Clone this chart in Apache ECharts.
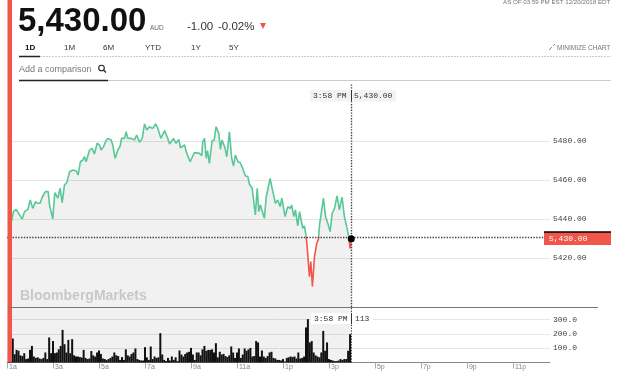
<!DOCTYPE html>
<html><head><meta charset="utf-8">
<script src="https://cdn.jsdelivr.net/npm/echarts@6/dist/echarts.min.js"></script>
<style>html,body{margin:0;padding:0;background:#fff}#c{width:620px;height:380px}</style></head>
<body><div id="c"></div>
<script>
const priceHours=[1.11,1.18,1.28,1.40,1.47,1.57,1.66,1.76,1.91,2.01,2.08,2.12,2.24,2.34,2.44,2.53,2.67,2.79,2.85,2.93,2.99,3.08,3.21,3.31,3.40,3.50,3.60,3.72,3.86,4.01,4.09,4.19,4.30,4.37,4.44,4.59,4.70,4.80,4.92,5.02,5.09,5.20,5.28,5.38,5.53,5.60,5.70,5.82,5.92,5.98,6.11,6.18,6.25,6.40,6.54,6.64,6.76,6.88,6.98,7.08,7.19,7.34,7.46,7.56,7.69,7.85,7.99,8.07,8.24,8.35,8.47,8.54,8.72,8.79,8.96,9.15,9.37,9.47,9.51,9.59,9.66,9.72,9.80,9.92,10.01,10.09,10.21,10.28,10.35,10.47,10.56,10.67,10.77,10.85,10.93,11.04,11.14,11.25,11.37,11.47,11.54,11.66,11.80,11.88,11.95,12.02,12.19,12.27,12.34,12.44,12.56,12.67,12.77,12.88,12.95,13.09,13.21,13.31,13.38,13.47,13.54,13.64,13.72,13.86,13.93,14.01,14.05,14.15,14.21,14.28,14.37,14.47,14.54,14.59,14.66,14.76,14.85,14.95,15.05,15.14,15.24,15.35,15.45,15.57,15.67,15.77,15.86,15.92,15.97];
const priceValues=[5436.2,5438.0,5443.9,5445.1,5445.1,5441.7,5440.2,5443.9,5445.1,5449.9,5449.9,5445.6,5449.0,5448.2,5448.2,5451.3,5454.2,5454.2,5447.3,5446.8,5440.2,5453.7,5450.8,5455.9,5448.5,5457.6,5458.8,5464.4,5465.3,5464.8,5462.7,5469.5,5470.4,5472.1,5469.5,5475.5,5476.4,5473.5,5479.0,5478.1,5475.5,5477.2,5479.8,5481.5,5480.7,5478.1,5471.3,5475.5,5477.6,5481.5,5481.5,5484.9,5481.5,5481.5,5480.7,5483.2,5479.5,5481.5,5488.9,5485.8,5487.5,5486.6,5488.9,5486.6,5481.5,5485.5,5481.5,5478.6,5481.5,5479.0,5481.0,5476.7,5478.1,5474.7,5469.5,5474.2,5473.8,5472.6,5479.8,5481.5,5471.3,5475.2,5468.7,5480.3,5480.7,5487.5,5484.1,5475.9,5480.7,5476.9,5472.1,5484.9,5471.3,5467.3,5473.0,5469.5,5469.0,5466.1,5462.2,5461.9,5458.1,5455.9,5442.2,5455.9,5443.9,5447.3,5440.5,5451.3,5451.6,5461.0,5454.2,5448.2,5449.9,5446.5,5450.8,5441.4,5446.5,5445.6,5447.3,5441.4,5444.8,5436.6,5443.9,5435.4,5436.6,5431.1,5426.0,5410.6,5418.3,5405.5,5420.9,5427.7,5429.7,5437.1,5436.2,5450.8,5441.4,5437.9,5433.7,5443.1,5445.6,5452.0,5444.8,5451.3,5441.4,5436.2,5431.1,5425.1,5430.0];
const volumeValues=[0,70,105,168,58,88,82,50,45,65,24,28,88,116,42,32,36,28,24,32,70,24,175,65,150,65,70,92,116,228,128,70,158,65,163,50,42,42,38,35,88,32,24,28,80,50,42,70,84,60,28,24,18,24,32,42,70,50,45,18,38,18,92,50,42,60,70,98,24,18,14,14,107,36,18,112,24,42,32,36,205,56,18,10,32,14,42,18,36,10,84,56,42,60,70,75,102,56,18,70,70,50,92,116,82,88,88,92,70,135,36,75,56,60,45,38,50,112,70,32,70,98,32,56,98,82,92,102,42,45,150,140,42,84,42,32,45,70,75,32,28,18,18,14,24,7,32,36,42,38,42,28,70,28,32,42,245,303,140,150,70,50,42,36,70,221,82,140,24,18,14,10,10,14,24,18,24,24,82,198];
const priceTicks=[5420,5440,5460,5480];
const volumeTicks=[100,200,300];
const hourTicks=[1,3,5,7,9,11,13,15,17,19,21,23];
const hourLabels=['1a','3a','5a','7a','9a','11a','1p','3p','5p','7p','9p','11p'];
const lastHour=15.97, lastPrice=5430, prevClose=5431, lastVolume=113;
const rangeTabs=['1D','1M','6M','YTD','1Y','5Y'];

const GREEN='#58c896',RED='#f0564a',SANS='"Liberation Sans",Arial,sans-serif',MONO='"Liberation Mono",monospace';
const price=priceHours.map((h,i)=>[h,priceValues[i]]);
const volume=volumeValues.map((v,i)=>[1+i/12,v]);
const txt=(x,y,text,size,fill,extra)=>({type:'text',z:100,silent:true,x,y,style:Object.assign({text,fontSize:size,fill,fontFamily:SANS,verticalAlign:'middle'},extra||{})});
const rect=(x,y,w,h,fill)=>({type:'rect',z:90,silent:true,shape:{x,y,width:w,height:h},style:{fill}});
const hline=(x1,x2,y,stroke,lw,dash)=>({type:'line',z:90,silent:true,shape:{x1,y1:y,x2,y2:y},style:{stroke,lineWidth:lw,lineDash:dash||null}});
const tabX=[25,64,103,145,191,229];

const chart=echarts.init(document.getElementById('c'),null,{renderer:'canvas'});
chart.setOption({
 animation:false,
 grid:[{left:7,right:70,top:84,bottom:73},{left:7,right:70,top:307,bottom:17.5}],
 xAxis:[
  {gridIndex:0,type:'value',min:1,max:24.61,show:false,splitLine:{show:false}},
  {gridIndex:1,type:'value',min:1,max:24.61,splitLine:{show:false},
   axisLine:{lineStyle:{color:'#888',width:1}},
   axisTick:{length:6,lineStyle:{color:'#aaa'},customValues:hourTicks},
   axisLabel:{customValues:hourTicks,align:'left',margin:1,padding:[0,0,0,2],fontSize:7,color:'#888',fontFamily:SANS,
     formatter:v=>hourLabels[hourTicks.indexOf(v)]||''}}
 ],
 yAxis:[
  {gridIndex:0,type:'value',position:'right',min:5395,max:5509.4,axisLine:{show:false},
   axisTick:{show:false,customValues:priceTicks},
   splitLine:{lineStyle:{color:'#e6e6e6',width:1}},
   axisLabel:{customValues:priceTicks,margin:3,fontSize:8,color:'#444',fontFamily:MONO,formatter:v=>v.toFixed(2)}},
  {gridIndex:1,type:'value',position:'right',min:0,max:388,axisLine:{show:false},
   axisTick:{show:false,customValues:volumeTicks},
   splitLine:{lineStyle:{color:'#e6e6e6',width:1}},
   axisLabel:{customValues:volumeTicks,margin:3,fontSize:8,color:'#444',fontFamily:MONO,formatter:v=>v.toFixed(1)}}
 ],
 visualMap:{show:false,type:'piecewise',seriesIndex:0,dimension:1,
   pieces:[{min:5300,max:prevClose,color:RED},{min:prevClose,max:5600,color:GREEN}]},
 series:[
  {type:'line',xAxisIndex:0,yAxisIndex:0,data:price,showSymbol:false,symbol:'none',smooth:false,
   lineStyle:{width:1.6},areaStyle:{color:'rgba(0,0,0,0.055)',opacity:1,origin:'start'},z:3},
  {type:'scatter',xAxisIndex:0,yAxisIndex:0,data:[[lastHour,lastPrice]],symbolSize:7,itemStyle:{color:'#000',opacity:1},z:6,
   markLine:{silent:true,symbol:'none',label:{show:false},animation:false,
     lineStyle:{color:'#444',width:1.4,type:[1.4,1.4]},
     data:[{yAxis:prevClose},{xAxis:lastHour}]}},
  {type:'bar',xAxisIndex:1,yAxisIndex:1,data:volume,barWidth:2,itemStyle:{color:'#111'},z:3,
   markArea:{silent:true,itemStyle:{color:'rgba(0,0,0,0.055)'},data:[[{xAxis:1},{xAxis:lastHour}]]},
   markLine:{silent:true,symbol:'none',label:{show:false},animation:false,
     lineStyle:{color:'#444',width:1,type:[1.4,1.4]},data:[{xAxis:lastHour}]}}
 ],
 graphic:[
  rect(7.5,0,4.5,362,RED),
  txt(18,22,'5,430.00',33,'#111',{fontWeight:'bold'}),
  txt(150,28.5,'AUD',6.5,'#666'),
  txt(187,27,'-1.00',11.5,'#333'),
  txt(218,27,'-0.02%',11.5,'#333'),
  {type:'polygon',z:90,silent:true,shape:{points:[[260,23],[266,23],[263,29]]},style:{fill:RED}},
  ...rangeTabs.map((t,i)=>txt(tabX[i],48,t,8,'#333',i===0?{fontWeight:'bold',fill:'#111'}:{})),
  hline(19,611,56.5,'#ccc',1,[2,1]),
  hline(19,40,56.5,'#222',1.5),
  txt(19,70,'Add a comparison',9,'#777'),
  {type:'circle',z:90,silent:true,shape:{cx:101.5,cy:68,r:2.8},style:{fill:'none',stroke:'#222',lineWidth:1.1}},
  {type:'line',z:90,silent:true,shape:{x1:103.5,y1:70,x2:106,y2:72.5},style:{stroke:'#222',lineWidth:1.2}},
  hline(19,611,80.5,'#ccc',1),
  hline(19,108,80.5,'#222',1.5),
  txt(503,2,'AS OF 03:59 PM EST 12/20/2018 EDT',6.2,'#777'),
  txt(557,48,'MINIMIZE CHART',6.5,'#777'),
  {type:'line',z:90,silent:true,shape:{x1:549,y1:50,x2:552,y2:47},style:{stroke:'#888',lineWidth:1}},
  {type:'line',z:90,silent:true,shape:{x1:553,y1:46,x2:555,y2:44},style:{stroke:'#888',lineWidth:1}},
  rect(310,90,86,11.5,'#f3f3f3'),
  {type:'line',z:95,silent:true,shape:{x1:351.5,y1:90,x2:351.5,y2:101.5},style:{stroke:'#333',lineWidth:1}},
  txt(313,96,'3:58 PM',8,'#333',{fontFamily:MONO}),
  txt(354,96,'5,430.00',8,'#333',{fontFamily:MONO}),
  hline(8,598,307.5,'#777',1),
  rect(544,232,67,13,RED),
  hline(544,611,232,'#000',1.5),
  txt(549,239,'5,430.00',8,'#fff',{fontFamily:MONO}),
  rect(311,313,62,11,'#fff'),
  {type:'line',z:95,silent:true,shape:{x1:351.5,y1:313,x2:351.5,y2:324},style:{stroke:'#333',lineWidth:1}},
  txt(314,318.5,'3:58 PM',8,'#333',{fontFamily:MONO}),
  txt(355,318.5,String(lastVolume),8,'#333',{fontFamily:MONO}),
  txt(20,296.5,'BloombergMarkets',14,'#c8c8c8',{fontWeight:'bold'})
 ]
});
</script></body></html>
